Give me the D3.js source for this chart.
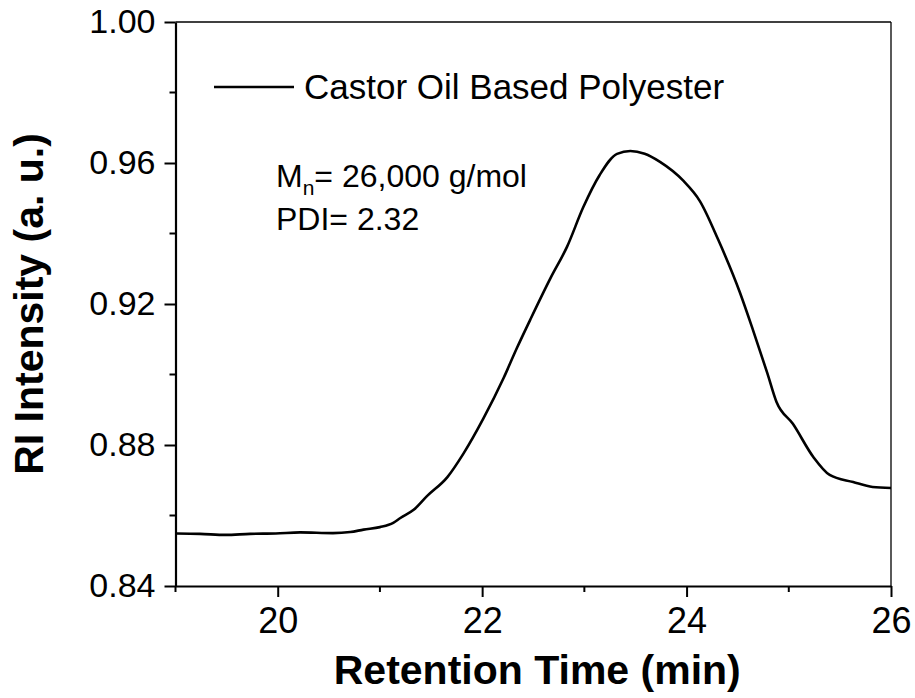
<!DOCTYPE html>
<html><head><meta charset="utf-8">
<script src="https://cdn.jsdelivr.net/npm/d3@7"></script>
<style>body{margin:0;background:#fff}svg{display:block;font-family:"Liberation Sans",Arial,sans-serif}</style>
</head><body><svg id="c" width="915" height="698"></svg>
<script>
const retentionTime = [19.01,19.24,19.49,19.73,19.98,20.22,20.54,20.71,20.84,21.00,21.13,21.20,21.33,21.46,21.66,21.82,22.01,22.21,22.34,22.47,22.67,22.83,22.99,23.15,23.32,23.45,23.59,23.74,23.97,24.13,24.31,24.52,24.65,24.79,24.88,25.04,25.24,25.40,25.63,25.82,26.00];
const riIntensity = [0.8549,0.8548,0.8545,0.8548,0.8549,0.8552,0.8550,0.8553,0.8560,0.8567,0.8579,0.8593,0.8616,0.8655,0.8709,0.8777,0.8874,0.8990,0.9075,0.9155,0.9274,0.9362,0.9475,0.9566,0.9626,0.9634,0.9626,0.9603,0.9549,0.9492,0.9382,0.9234,0.9126,0.9004,0.8922,0.8860,0.8766,0.8715,0.8695,0.8681,0.8678];
const xMajorTicks = [20,22,24,26];
const xMinorTicks = [19,21,23,25];
const yMajorTicks = [0.84,0.88,0.92,0.96,1.00];
const yMinorTicks = [0.86,0.90,0.94,0.98];
const seriesName = "Castor Oil Based Polyester";

const svg = d3.select("#c");
const L=175.5, R=891, T=22, B=586;
const x = d3.scaleLinear().domain([19,26]).range([L,R]);
const y = d3.scaleLinear().domain([0.84,1.00]).range([B,T]);

svg.append("line").attr("x1",L).attr("x2",R).attr("y1",T).attr("y2",T).attr("stroke","#000").attr("stroke-width",1.3);
svg.append("line").attr("x1",R).attr("x2",R).attr("y1",T).attr("y2",B).attr("stroke","#000").attr("stroke-width",1.3);

const xAxis = svg.append("g").attr("transform",`translate(0,${B})`)
  .call(d3.axisBottom(x).tickValues(xMajorTicks).tickSize(11).tickSizeOuter(0).tickPadding(10).tickFormat(d3.format("d")));
xAxis.append("g").selectAll("line").data(xMinorTicks).join("line")
  .attr("x1",d=>x(d)).attr("x2",d=>x(d)).attr("y1",0).attr("y2",6).attr("stroke","#000").attr("stroke-width",2);
const yAxis = svg.append("g").attr("transform",`translate(${L},0)`)
  .call(d3.axisLeft(y).tickValues(yMajorTicks).tickSize(11).tickSizeOuter(0).tickPadding(9).tickFormat(d3.format(".2f")));
yAxis.append("g").selectAll("line").data(yMinorTicks).join("line")
  .attr("y1",d=>y(d)).attr("y2",d=>y(d)).attr("x1",0).attr("x2",-6).attr("stroke","#000").attr("stroke-width",2);

[xAxis,yAxis].forEach(a=>{
  a.select(".domain").attr("stroke-width",2.2);
  a.selectAll(".tick line").attr("stroke-width",2);
  a.selectAll("text").attr("font-family","'Liberation Sans', Arial, sans-serif").attr("font-size",34).attr("fill","#000");
});
xAxis.selectAll(".tick text").attr("font-size",36).attr("dy","0.71em");

svg.append("path").datum(retentionTime.map((t,i)=>[t,riIntensity[i]]))
  .attr("fill","none").attr("stroke","#000").attr("stroke-width",2.6).attr("stroke-linejoin","round")
  .attr("d",d3.line().x(d=>x(d[0])).y(d=>y(d[1])).curve(d3.curveMonotoneX));

svg.append("line").attr("x1",214).attr("x2",294).attr("y1",87).attr("y2",87).attr("stroke","#000").attr("stroke-width",2.6);
svg.append("text").attr("x",304).attr("y",99).attr("font-size",35).text(seriesName);

const ann = svg.append("text").attr("x",276).attr("y",187).attr("font-size",32);
ann.append("tspan").text("M");
ann.append("tspan").attr("font-size",21).attr("dy",8).text("n");
ann.append("tspan").attr("dy",-8).text("= 26,000 g/mol");
svg.append("text").attr("x",276).attr("y",230).attr("font-size",32).text("PDI= 2.32");

svg.append("text").attr("x",(L+R)/2+4).attr("y",684).attr("text-anchor","middle")
  .attr("font-size",41).attr("font-weight","bold").text("Retention Time (min)");
svg.append("text").attr("transform",`translate(43,${(T+B)/2}) rotate(-90)`).attr("text-anchor","middle")
  .attr("font-size",41).attr("font-weight","bold").text("RI Intensity (a. u.)");
</script></body></html>
